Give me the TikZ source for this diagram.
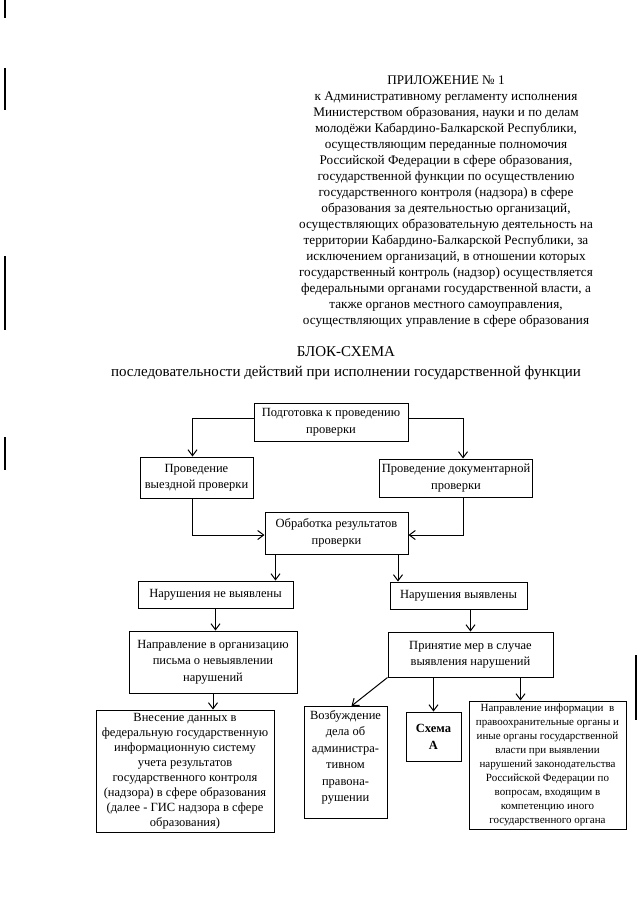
\documentclass[tikz,border=0pt]{standalone}
\usepackage{fontspec}
\setmainfont{Liberation Serif}
\usetikzlibrary{arrows.meta}

\tikzset{
  blockbox/.style={draw, line width=1pt, align=center, inner sep=2pt,
    font=\fontsize{12.5}{16.5}\selectfont},
  flowline/.style={line width=1pt, ->},
}

\begin{document}
\begin{tikzpicture}[x=1pt, y=-1pt, >={Straight Barb[length=6pt,width=9pt]}]
  \useasboundingbox (0,0) rectangle (640,905);
  % scan margin marks
  \draw[line width=1.4pt] (5,0) -- (5,18);
  \draw[line width=1.4pt] (5,68) -- (5,110);
  \draw[line width=1.4pt] (5,256) -- (5,330);
  \draw[line width=1.4pt] (5,437) -- (5,470);
  \draw[line width=1.4pt] (636,655) -- (636,720);
  % appendix heading
  \node[align=center, inner sep=0pt, anchor=north,
    font=\fontsize{13.2}{16}\selectfont] (appx) at (446,76)
    {ПРИЛОЖЕНИЕ № 1\\
     к Административному регламенту исполнения\\
     Министерством образования, науки и по делам\\
     молодёжи Кабардино-Балкарской Республики,\\
     осуществляющим переданные полномочия\\
     Российской Федерации в сфере образования,\\
     государственной функции по осуществлению\\
     государственного контроля (надзора) в сфере\\
     образования за деятельностью организаций,\\
     осуществляющих образовательную деятельность на\\
     территории Кабардино-Балкарской Республики, за\\
     исключением организаций, в отношении которых\\
     государственный контроль (надзор) осуществляется\\
     федеральными органами государственной власти, а\\
     также органов местного самоуправления,\\
     осуществляющих управление в сфере образования};
  % title
  \node[inner sep=0pt, font=\fontsize{15}{20}\selectfont] (title) at (346,352) {БЛОК-СХЕМА};
  \node[inner sep=0pt, font=\fontsize{15}{20}\selectfont] (subtitle) at (346,373)
    {последовательности действий при исполнении государственной функции};
  % blocks
  \node[blockbox, minimum width=154, minimum height=38] (prep) at (331,422)
    {Подготовка к проведению\\проверки};
  \node[blockbox, minimum width=113, minimum height=41] (visit) at (196.5,477.5)
    {Проведение\\выездной проверки};
  \node[blockbox, minimum width=150, minimum height=38] (docs) at (456,478)
    {Проведение документарной\\проверки};
  \node[blockbox, minimum width=143, minimum height=42] (proc) at (336.5,533)
    {Обработка результатов\\проверки};
  \node[blockbox, minimum width=155, minimum height=27] (noviol) at (215.5,594.5)
    {Нарушения не выявлены};
  \node[blockbox, minimum width=137, minimum height=27] (viol) at (458.5,595.5)
    {Нарушения выявлены};
  \node[blockbox, minimum width=168, minimum height=62] (letter) at (213,662)
    {Направление в организацию\\письма о невыявлении\\нарушений};
  \node[blockbox, minimum width=165, minimum height=45] (measures) at (470.5,654.5)
    {Принятие мер в случае\\выявления нарушений};
  \node[blockbox, minimum width=178, minimum height=122,
    font=\fontsize{12.5}{15}\selectfont] (gis) at (185,771)
    {Внесение данных в\\федеральную государственную\\информационную систему\\учета результатов\\
     государственного контроля\\(надзора) в сфере образования\\(далее - ГИС надзора в сфере\\образования)};
  \node[blockbox, inner sep=4pt, anchor=north] (admin) at (345.5,706)
    {\parbox[b][104pt][t]{75pt}{\centering Возбуждение\\дела об\\администра-\\тивном\\правона-\\рушении}};
  \node[blockbox, minimum width=55, minimum height=49, font=\fontsize{12.5}{17}\bfseries] (schemeA) at (433.5,736.5)
    {Схема\\А};
  \node[blockbox, minimum width=157, minimum height=128,
    font=\fontsize{11}{14}\selectfont] (inform) at (547.5,765)
    {Направление информации \ в\\правоохранительные органы и\\иные органы государственной\\власти при выявлении\\
     нарушений законодательства\\Российской Федерации по\\вопросам, входящим в\\компетенцию иного\\государственного органа};
  % connectors
  \draw[flowline] ([yshift=4]prep.west) -| ([xshift=-4]visit.north);
  \draw[flowline] ([yshift=4]prep.east) -| ([xshift=7]docs.north);
  \draw[flowline] ([xshift=-4]visit.south) |- ([yshift=-2]proc.west);
  \draw[flowline] ([xshift=7]docs.south) |- ([yshift=-2]proc.east);
  \draw[flowline] ([xshift=-61]proc.south) -- ([xshift=-61]proc.south |- noviol.north);
  \draw[flowline] ([xshift=61.5]proc.south) -- ([xshift=61.5]proc.south |- viol.north);
  \draw[flowline] (noviol.south) -- (noviol.south |- letter.north);
  \draw[flowline] (measures.north |- viol.south) -- (measures.north);
  \draw[flowline] (letter.south) -- (letter.south |- gis.north);
  \draw[flowline] (measures.south west) -- ([xshift=6]admin.north);
  \draw[flowline] (schemeA.north |- measures.south) -- (schemeA.north);
  \draw[flowline] ([xshift=-27]inform.north |- measures.south) -- ([xshift=-27]inform.north);
\end{tikzpicture}
\end{document}
